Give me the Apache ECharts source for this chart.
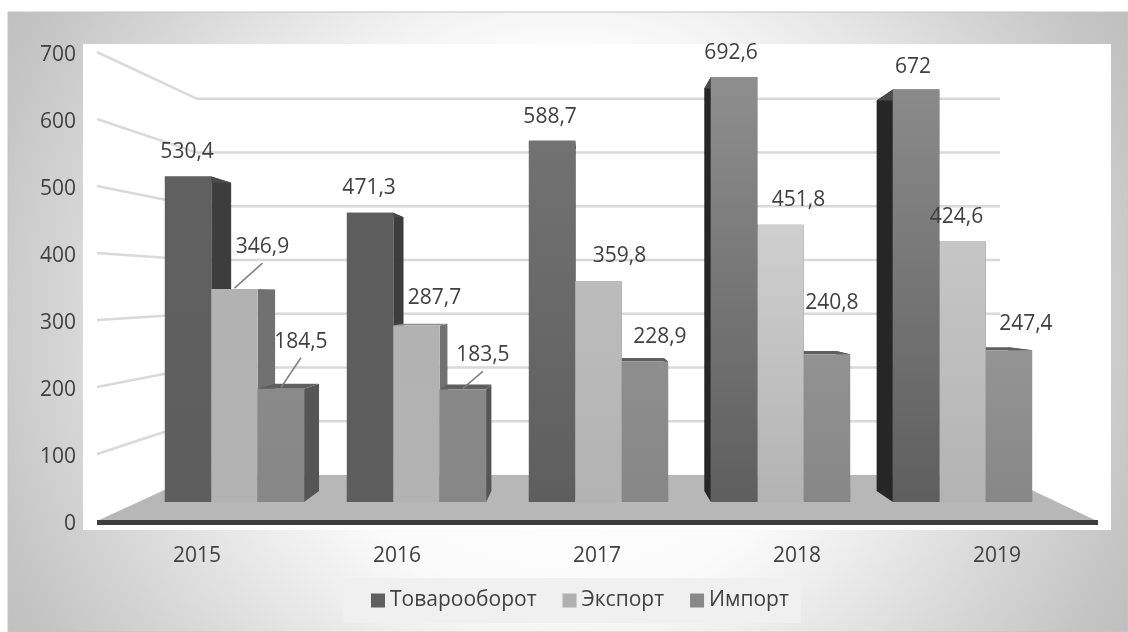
<!DOCTYPE html>
<html>
<head>
<meta charset="utf-8">
<title>Товарооборот</title>
<script src="https://cdn.jsdelivr.net/npm/echarts@6/dist/echarts.min.js"></script>
<style>
  html, body { margin: 0; padding: 0; background: #fff; }
  #chart { width: 1128px; height: 632px; }
</style>
</head>
<body>
<div id="chart"></div>
<script>
const years = ['2015', '2016', '2017', '2018', '2019'];
const turnover = [530.4, 471.3, 588.7, 692.6, 672];
const exportValues = [346.9, 287.7, 359.8, 451.8, 424.6];
const importValues = [184.5, 183.5, 228.9, 240.8, 247.4];
const yTicks = [0, 100, 200, 300, 400, 500, 600, 700];

// label shift from the bar top centre
const labelShift = [
  [[-1, -25], [-1, -26], [-2, -25], [-3, -25], [-3, -24]],
  [[28, -43], [18, -28], [21, -26], [18, -26], [-6, -25]],
  [[20, -48], [20, -35], [15, -26], [5, -52], [17, -27]]
];
const leaderBars = ['1-0', '2-0', '2-1'];

const FONT = '"Open Sans", "Noto Sans", sans-serif';
const FONT_SIZE = 21;
const TEXT = '#404040';
const VP = [586, 295];      // vanishing point of the fake 3d
const BAR_PLANE = 0.916;
const DEPTH = 0.053;
const BACK_PLANE = 0.802;
const BAR_W = 46.4;

const barStyles = [
  { legend: '#5f5f5f', bottom: '#5e5e5e', tops: ['#606060', '#5e5e5e', '#727272', '#8e8e8e', '#8a8a8a'], right: '#3d3d3d', left: '#262626', top: '#4a4a4a' },
  { legend: '#b0b0b0', bottom: '#b3b3b3', tops: ['#b2b2b2', '#b2b2b2', '#bcbcbc', '#cfcfcf', '#c6c6c6'], right: '#717171', left: '#777777', top: '#8c8c8c' },
  { legend: '#888888', bottom: '#878787', tops: ['#8a8a8a', '#888888', '#8e8e8e', '#929292', '#949494'], right: '#555555', left: '#606060', top: '#5f5f5f' }
];

const toBack = (x, y) => [x + (VP[0] - x) * DEPTH, y + (VP[1] - y) * DEPTH];

const renderBar = (s) => (params, api) => {
  const cat = api.value(0);
  const val = api.value(1);
  const st = barStyles[s];
  const top = api.coord([cat, val]);
  const base = api.coord([cat, 0]);
  const yTop = VP[1] + (top[1] - VP[1]) * BAR_PLANE;
  const yBase = VP[1] + (base[1] - VP[1]) * BAR_PLANE;
  const cx = 598.5 + (top[0] - 597) * 0.91 + (s - 1) * BAR_W;
  const x0 = cx - BAR_W / 2;
  const x1 = cx + BAR_W / 2;
  // left half stacks front-to-right, right half the other way round
  const rank = 10 + (cx < VP[0] + 40 ? s : 2 - s) * 3;
  const poly = (points, fill, z2) => ({ type: 'polygon', shape: { points }, style: { fill }, z2, silent: true });
  const children = [
    poly([[x1, yTop], toBack(x1, yTop), toBack(x1, yBase), [x1, yBase]], st.right, rank),
    poly([[x0, yTop], toBack(x0, yTop), toBack(x0, yBase), [x0, yBase]], st.left, rank),
    poly([[x0, yTop], [x1, yTop], toBack(x1, yTop), toBack(x0, yTop)], st.top, rank + 1),
    {
      type: 'rect',
      shape: { x: x0, y: yTop, width: BAR_W, height: yBase - yTop },
      style: {
        fill: new echarts.graphic.LinearGradient(0, 0, 0, 1, [
          { offset: 0, color: st.tops[cat] },
          { offset: 1, color: st.bottom }
        ])
      },
      z2: rank + 2,
      silent: true
    }
  ];
  const shift = labelShift[s][cat];
  const lx = cx + shift[0];
  const ly = yTop + shift[1];
  if (leaderBars.indexOf(s + '-' + cat) >= 0) {
    children.push({
      type: 'line',
      shape: { x1: cx, y1: yTop - 1, x2: lx, y2: ly + 17 },
      style: { stroke: '#7f7f7f', lineWidth: 1.5 },
      z2: 90,
      silent: true
    });
  }
  children.push({
    type: 'text',
    style: {
      text: String(val).replace('.', ','),
      x: lx,
      y: ly + 1,
      fill: TEXT,
      font: FONT_SIZE + 'px ' + FONT,
      align: 'center',
      verticalAlign: 'middle'
    },
    z2: 100,
    silent: true
  });
  return { type: 'group', children };
};

// side wall + back wall lines, one per tick
const renderWall = (params, api) => {
  const p = api.coord([0, api.value(0)]);
  const yBack = 475 + (p[1] - 521) * BACK_PLANE;
  return {
    type: 'polyline',
    shape: { points: [[97, p[1]], [197, yBack], [1000, yBack]] },
    style: { stroke: '#d9d9d9', lineWidth: 2.5, fill: 'none' },
    z2: 2,
    silent: true
  };
};

const renderFloor = (params, api) => {
  const p = api.coord([0, 0]);
  const yBack = 475;
  return {
    type: 'group',
    children: [
      {
        type: 'polygon',
        shape: { points: [[97, p[1]], [197, yBack], [1000, yBack], [1097, p[1]]] },
        style: { fill: '#b7b7b7' },
        z2: 4,
        silent: true
      },
      {
        type: 'line',
        shape: { x1: 97, y1: p[1] + 1.5, x2: 1098, y2: p[1] + 1.5 },
        style: { stroke: '#3f3f3f', lineWidth: 5 },
        z2: 60,
        silent: true
      }
    ]
  };
};

const barSeries = (name, values, s) => ({
  name,
  type: 'custom',
  renderItem: renderBar(s),
  itemStyle: { color: barStyles[s].legend },
  encode: { x: 0, y: 1 },
  data: values.map((v, i) => [i, v]),
  clip: false,
  silent: true
});

const chart = echarts.init(document.getElementById('chart'), null, { renderer: 'canvas' });
chart.setOption({
  animation: false,
  textStyle: { fontFamily: FONT },
  graphic: [
    {
      type: 'rect',
      z: -3,
      silent: true,
      shape: { x: 8, y: 12, width: 1120, height: 620 },
      style: {
        fill: new echarts.graphic.RadialGradient(564, 322, 645, [
          { offset: 0, color: '#ffffff' },
          { offset: 0.43, color: '#fbfbfb' },
          { offset: 0.58, color: '#ebebeb' },
          { offset: 0.93, color: '#c4c4c4' },
          { offset: 1, color: '#bfbfbf' }
        ], true),
        stroke: '#c4c4c4',
        lineWidth: 1
      }
    },
    {
      type: 'rect',
      z: -2,
      silent: true,
      shape: { x: 83, y: 44, width: 1028, height: 486 },
      style: { fill: '#ffffff' }
    }
  ],
  legend: {
    data: ['Товарооборот', 'Экспорт', 'Импорт'],
    left: 343,
    top: 578,
    padding: [12, 12, 12, 28],
    backgroundColor: '#f0f0f0',
    icon: 'rect',
    itemWidth: 14,
    itemHeight: 14,
    itemGap: 26,
    selectedMode: false,
    textStyle: { color: TEXT, fontSize: FONT_SIZE, fontFamily: FONT }
  },
  grid: { left: 97, right: 31, top: 52, bottom: 111 },
  xAxis: {
    type: 'category',
    data: years,
    axisLine: { show: false },
    axisTick: { show: false },
    axisLabel: { color: TEXT, fontSize: FONT_SIZE, margin: 25, fontFamily: FONT }
  },
  yAxis: {
    type: 'value',
    min: 0,
    max: 700,
    interval: 100,
    splitLine: { show: false },
    axisLine: { show: false },
    axisTick: { show: false },
    axisLabel: { color: TEXT, fontSize: FONT_SIZE, margin: 21, fontFamily: FONT, verticalAlign: 'top', lineHeight: 6 }
  },
  series: [
    {
      type: 'custom',
      name: 'wall',
      renderItem: renderWall,
      encode: { y: 0 },
      data: yTicks.slice(1).map(v => [v]),
      clip: false,
      silent: true
    },
    {
      type: 'custom',
      name: 'floor',
      renderItem: renderFloor,
      encode: { y: 0 },
      data: [[0]],
      clip: false,
      silent: true
    },
    barSeries('Товарооборот', turnover, 0),
    barSeries('Экспорт', exportValues, 1),
    barSeries('Импорт', importValues, 2)
  ]
});
</script>
</body>
</html>
